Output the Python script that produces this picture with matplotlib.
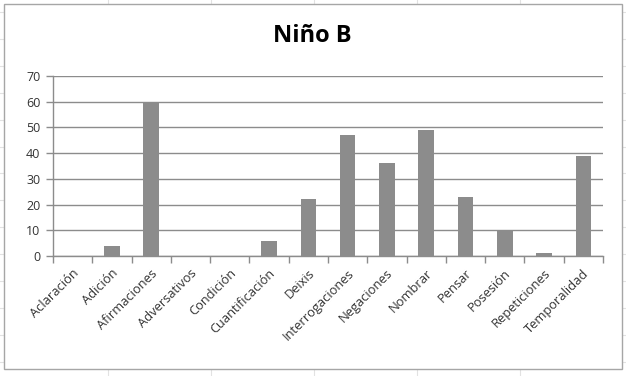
import matplotlib
matplotlib.use("Agg")
import matplotlib.pyplot as plt
from matplotlib.patches import Rectangle
from matplotlib.lines import Line2D
import numpy as np

# Datos
categorias = ['Aclaración', 'Adición', 'Afirmaciones', 'Adversativos', 'Condición',
              'Cuantificación', 'Deixis', 'Interrogaciones', 'Negaciones', 'Nombrar',
              'Pensar', 'Posesión', 'Repeticiones', 'Temporalidad']
valores = [0, 4, 60, 0, 0, 6, 22, 47, 36, 49, 23, 10, 1, 39]
titulo = 'Niño B'
y_ticks = [0, 10, 20, 30, 40, 50, 60, 70]

W, H = 626, 376
plt.rcParams['font.family'] = ['Open Sans', 'DejaVu Sans']

fig = plt.figure(figsize=(W / 100, H / 100), dpi=100)

# Líneas de celdas de la hoja (fondo)
cell_col = '#e2e2e2'
for xc in [108, 211, 314, 417, 520]:
    fig.add_artist(Line2D([xc / W, xc / W], [0, 1], color=cell_col, lw=0.8, zorder=0))
for yc in [12, 39, 66, 93, 120, 147, 173, 200, 227, 254, 281, 308, 335, 362]:
    fig.add_artist(Line2D([0, 1], [1 - yc / H, 1 - yc / H], color=cell_col, lw=0.8, zorder=0))

# Marco del gráfico
fig.add_artist(Rectangle((4 / W, 1 - 369 / H), 618 / W, 365 / H,
                         facecolor='white', edgecolor='#a6a6a6', lw=1.0,
                         transform=fig.transFigure, zorder=1))

ax = fig.add_axes([53 / W, 1 - 256 / H, 550 / W, 180 / H], zorder=2)
ax.patch.set_alpha(0)

x = np.arange(len(categorias))
ax.bar(x, valores, width=0.4, color='#8c8c8c', zorder=3)

ax.set_xlim(-0.5, len(categorias) - 0.5)
ax.set_ylim(0, 70)
ax.set_yticks(y_ticks)
ax.set_yticklabels([str(v) for v in y_ticks], fontsize=9, color='#333333')
ax.yaxis.grid(True, color='#8c8c8c', lw=1.0, zorder=0)
ax.set_axisbelow(True)

ax.set_xticks(np.arange(len(categorias) + 1) - 0.5)
ax.set_xticklabels([])
ax.tick_params(axis='x', length=5, color='#8c8c8c', width=1.0, direction='out')
ax.tick_params(axis='y', length=5, color='#8c8c8c', width=1.0, direction='out', pad=4)

for i, c in enumerate(categorias):
    ax.text(i + 0.1, -6, c, rotation=45, rotation_mode='anchor',
            ha='right', va='center', fontsize=9.3, color='#333333',
            transform=ax.transData, clip_on=False)

for s in ['top', 'right']:
    ax.spines[s].set_visible(False)
for s in ['left', 'bottom']:
    ax.spines[s].set_color('#8c8c8c')
    ax.spines[s].set_linewidth(1.0)

fig.text(312 / W, 1 - 36 / H, titulo, ha='center', va='center',
         fontsize=17, fontweight='bold', color='black', zorder=3)

fig.savefig('out.png', dpi=100)
